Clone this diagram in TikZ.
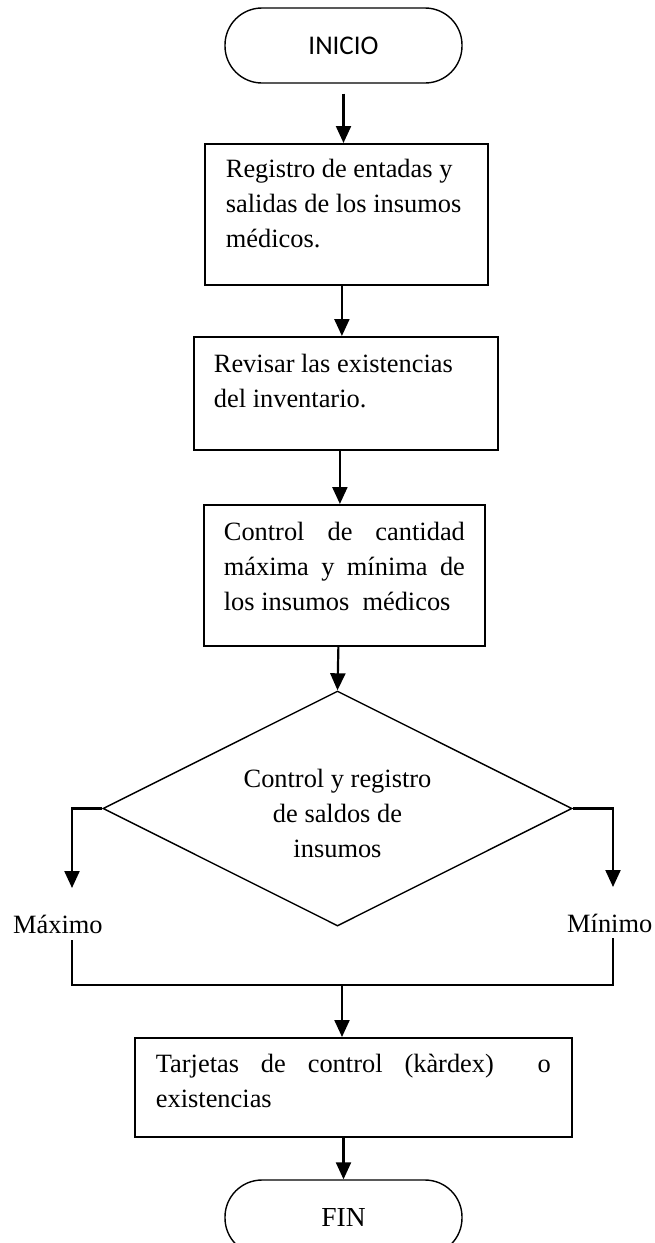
\documentclass[tikz,border=0pt]{standalone}
\usepackage{fontspec}
\setmainfont{Liberation Serif}
\newfontfamily\calibri{Carlito}
\usetikzlibrary{arrows.meta,shapes.geometric}
\newcommand{\boxtxt}[4]{\parbox[c][#2][t]{#1}{\tolerance=10000\hbadness=10000\rule{0pt}{#3}#4}}
\tikzset{
  txt/.style={font=\fontsize{26.4}{35}\selectfont},
  proc/.style={txt, draw, line width=1.8pt, inner xsep=#1, inner ysep=0pt, anchor=north west},
  term/.style={draw, line width=1.4pt, rounded corners=37pt, minimum width=237pt, minimum height=75pt, inner sep=0pt},
  dia/.style={txt, draw, shape=diamond, aspect=2, line width=1.4pt, minimum width=469pt, minimum height=235pt, inner sep=0pt, align=center},
  lbl/.style={txt, inner sep=0pt, anchor=base west},
  arr/.style={line width=2.2pt, -{Triangle[length=17pt,width=15pt]}},
  conn/.style={line width=1.8pt}
}
\begin{document}
\begin{tikzpicture}[x=1pt,y=-1pt]
\useasboundingbox (0,0) rectangle (654,1243);
\node[term, font=\calibri\fontsize{27}{32}\selectfont] (i) at (343.5,45.5) {INICIO};
\node[proc=21pt] (b1) at (204,143) {\boxtxt{241pt}{141pt}{34pt}{\raggedright Registro de entadas y\\ salidas de los insumos\\ médicos.}};
\node[proc=20pt] (b2) at (193,336) {\boxtxt{264pt}{113pt}{36pt}{\raggedright Revisar las existencias\\ del inventario.}};
\node[proc=20pt] (b3) at (203,504) {\boxtxt{241pt}{141pt}{36pt}{Control de cantidad\linebreak máxima y mínima de\linebreak los insumos\ \ médicos}};
\node[dia] (d) at (337.5,808.5) {\rule{0pt}{28pt}Control y registro\\ de saldos de\\ insumos};
\node[lbl] (max) at (13,933) {Máximo};
\node[lbl] (min) at (567,932) {Mínimo};
\node[proc=21pt] (b4) at (134,1037) {\boxtxt{395pt}{99pt}{35pt}{Tarjetas de control (kàrdex)\ \ o\linebreak existencias}};
\node[term, font=\fontsize{27.5}{32}\selectfont] (fin) at (343.5,1217.5) {FIN};
\coordinate (lt) at (72,888);
\coordinate (rt) at (613,887);
\coordinate (lb) at (72,940);
\coordinate (rb) at (613,938);
\coordinate (m) at (342,985);
\draw[arr] ([yshift=-10pt]i.south) -- (i.south |- b1.north);
\draw[arr] ([xshift=-4.5pt]b1.south) -- ([xshift=-4.5pt]b1.south |- b2.north);
\draw[arr] ([xshift=-6pt]b2.south) -- ([xshift=-6pt]b2.south |- b3.north);
\draw[arr] ([xshift=-6pt]b3.south) -- (d.north);
\draw[arr] (d.west) -| (lt);
\draw[arr] (d.east) -| (rt);
\draw[conn] (lb) |- (m) -| (rb);
\draw[arr] (m) -- (m |- b4.north);
\draw[arr] (b4.south -| fin.north) -- (fin.north);
\end{tikzpicture}
\end{document}
